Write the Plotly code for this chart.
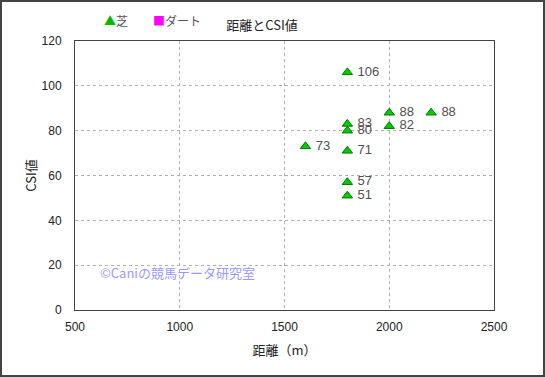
import plotly.graph_objects as go

distance_turf = [1800, 1800, 1800, 1800, 1800, 1800, 1600, 2000, 2000, 2200]
csi_turf = [106, 83, 80, 71, 57, 51, 73, 88, 82, 88]
labels_turf = [str(v) for v in csi_turf]

distance_dirt = []
csi_dirt = []

x_ticks = [500, 1000, 1500, 2000, 2500]
y_ticks = [0, 20, 40, 60, 80, 100, 120]

font_family = "Noto Sans CJK JP, DejaVu Sans, sans-serif"
num_font = "Liberation Sans, Arial, sans-serif"

L, R, T, B = 75, 51, 41, 67
W, H = 545, 377
pw, ph = W - L - R, H - T - B

fig = go.Figure()
fig.add_trace(go.Scatter(
    x=distance_turf, y=csi_turf, mode="markers+text", name="芝",
    text=[" " + t for t in labels_turf], textposition="middle right",
    textfont=dict(size=13, color="#505050", family=num_font),
    marker=dict(symbol="triangle-up", size=9, color="#00cc00",
                line=dict(color="#007700", width=1)),
    cliponaxis=False,
))
fig.add_trace(go.Scatter(
    x=distance_dirt if distance_dirt else [None], y=csi_dirt if csi_dirt else [None],
    mode="markers", name="ダート",
    marker=dict(symbol="square", size=8, color="#ff00ff"),
))

fig.update_layout(
    width=W, height=H,
    margin=dict(l=L, r=R, t=T, b=B, autoexpand=False),
    paper_bgcolor="white", plot_bgcolor="white",
    font=dict(family=font_family, size=12, color="#222222"),
    title=dict(text="距離とCSI値", x=262 / W, xanchor="center", y=1 - 25 / H, yanchor="middle",
               font=dict(size=13, color="#222222")),
    showlegend=False,
    xaxis=dict(range=[500, 2500], tickvals=x_ticks, ticks="", ticklabelstandoff=6,
               showgrid=True, gridcolor="#b0b0b0", griddash="dot", gridwidth=1,
               showline=True, linecolor="#444444", linewidth=1, mirror=True,
               zeroline=False, automargin=False,
               title=dict(text="距離（m）", standoff=12, font=dict(size=13)),
               tickfont=dict(size=12, color="#222222", family=num_font)),
    yaxis=dict(range=[0, 120], tickvals=y_ticks, ticks="", ticklabelstandoff=10,
               showgrid=True, gridcolor="#b0b0b0", griddash="dot", gridwidth=1,
               showline=True, linecolor="#444444", linewidth=1, mirror=True,
               zeroline=False, automargin=False,
               title=dict(text="CSI値", standoff=2, font=dict(size=13)),
               tickfont=dict(size=12, color="#222222", family=num_font)),
    shapes=[dict(type="rect", xref="paper", yref="paper",
                 x0=(1 - L) / pw, x1=(W - 1 - L) / pw,
                 y0=-(H - 1 - (T + ph)) / ph, y1=1 + (T - 1) / ph,
                 line=dict(color="#444444", width=2))],
    annotations=[
        dict(text="©Caniの競馬データ研究室", x=(98 - L) / pw, y=(310 - 272) / ph, xref="paper",
             yref="paper", xanchor="left", yanchor="middle", showarrow=False,
             font=dict(size=13, color="#9999ff")),
        dict(text="<span style='color:#00bb00'>▲</span>芝", x=(102 - L) / pw,
             y=1 + (T - 20) / ph, xref="paper", yref="paper", xanchor="left",
             yanchor="middle", showarrow=False, font=dict(size=12, color="#555555")),
        dict(text="<span style='color:#ff00ff'>■</span>ダート", x=(151 - L) / pw,
             y=1 + (T - 20) / ph, xref="paper", yref="paper", xanchor="left",
             yanchor="middle", showarrow=False, font=dict(size=12, color="#555555")),
    ],
)

fig.write_html("out.html", config={"displayModeBar": False},
               post_script="document.body.style.margin='0';document.body.style.overflow='hidden';")
